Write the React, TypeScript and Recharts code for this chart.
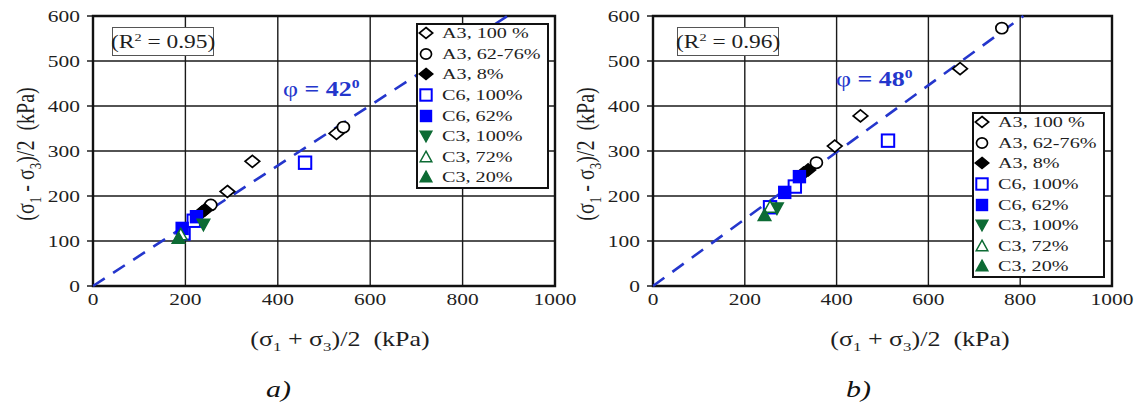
import React from 'react';
import { ScatterChart, Scatter, XAxis, YAxis, CartesianGrid, ReferenceLine, ReferenceArea, Legend } from 'recharts';

const FONT = '"Liberation Serif", "Times New Roman", Times, serif';
const SX = 1.3; // horizontal stretch of the glyphs in the reference

// ---- data: panel a) ----
const A3_100_A = [{ x: 291, y: 210 }, { x: 345, y: 277 }, { x: 527, y: 339 }];
const A3_6276_A = [{ x: 255, y: 180 }, { x: 542, y: 353 }];
const A3_8_A = [{ x: 236, y: 164 }, { x: 242, y: 169 }];
const C6_100_A = [{ x: 196, y: 117 }, { x: 218, y: 145 }, { x: 459, y: 274 }];
const C6_62_A = [{ x: 193, y: 128 }, { x: 224, y: 154 }];
const C3_100_A = [{ x: 239, y: 137 }];
const C3_72_A = [{ x: 190, y: 114 }];
const C3_20_A = [{ x: 185, y: 106 }];
const FIT_A = [{ x: 0, y: 0 }, { x: 897, y: 600 }];

// ---- data: panel b) ----
const A3_100_B = [{ x: 396, y: 311 }, { x: 452, y: 378 }, { x: 669, y: 483 }];
const A3_6276_B = [{ x: 356, y: 274 }, { x: 760, y: 573 }];
const A3_8_B = [{ x: 328, y: 251 }, { x: 338, y: 258 }];
const C6_100_B = [{ x: 255, y: 175 }, { x: 309, y: 221 }, { x: 512, y: 323 }];
const C6_62_B = [{ x: 287, y: 208 }, { x: 319, y: 243 }];
const C3_100_B = [{ x: 270, y: 173 }];
const C3_72_B = [{ x: 255, y: 175 }];
const C3_20_B = [{ x: 243, y: 157 }];
const FIT_B = [{ x: 0, y: 0 }, { x: 807, y: 600 }];

const X_TICKS = [0, 200, 400, 600, 800, 1000];
const Y_TICKS = [0, 100, 200, 300, 400, 500, 600];
const SERIES_NAMES = ['A3, 100 %', 'A3, 62-76%', 'A3, 8%', 'C6, 100%', 'C6, 62%', 'C3, 100%', 'C3, 72%', 'C3, 20%'];

const BLUE = '#0000ff';
const GREEN = '#0d6b34';
const LINE_BLUE = '#2436cc';
const TXT = '#1e1e1e';

const STYLES = [
  { kind: 'diamond', color: '#000', filled: false },
  { kind: 'circle', color: '#000', filled: false },
  { kind: 'diamond', color: '#000', filled: true },
  { kind: 'square', color: BLUE, filled: false },
  { kind: 'square', color: BLUE, filled: true },
  { kind: 'down', color: GREEN, filled: true },
  { kind: 'up', color: GREEN, filled: false },
  { kind: 'up', color: GREEN, filled: true },
];

function MarkerSvg({ cx, cy, kind, color, filled, s = 1 }: any) {
  const fill = filled ? color : '#fff';
  if (kind === 'diamond') {
    const w = 7.3 * s, h = 6 * s;
    return <polygon points={`${cx},${cy - h} ${cx + w},${cy} ${cx},${cy + h} ${cx - w},${cy}`} fill={fill} stroke={color} strokeWidth={1.7} />;
  }
  if (kind === 'circle') {
    return <ellipse cx={cx} cy={cy} rx={6 * s} ry={5.6 * s} fill={fill} stroke={color} strokeWidth={1.7} />;
  }
  if (kind === 'square') {
    const d = 6.2 * s;
    return filled
      ? <rect x={cx - d - 0.5} y={cy - d - 0.5} width={2 * d + 1} height={2 * d + 1} fill={fill} />
      : <rect x={cx - d} y={cy - d} width={2 * d} height={2 * d} fill={fill} stroke={color} strokeWidth={2} />;
  }
  const d = 6.3 * s;
  if (kind === 'up') {
    return <polygon points={`${cx},${cy - d} ${cx + d},${cy + d * 0.8} ${cx - d},${cy + d * 0.8}`} fill={fill} stroke={color} strokeWidth={1.5} />;
  }
  return <polygon points={`${cx - d},${cy - d * 0.8} ${cx + d},${cy - d * 0.8} ${cx},${cy + d}`} fill={fill} stroke={color} strokeWidth={1.5} />;
}

const makeShape = (st: any) => (props: any) => <MarkerSvg cx={props.cx} cy={props.cy} {...st} />;

const Stretch = ({ children, origin = 'left center' }: any) => (
  <span style={{ display: 'inline-block', transform: `scaleX(${SX})`, transformOrigin: origin, whiteSpace: 'pre' }}>{children}</span>
);

function LegendBox() {
  return (
    <div style={{ position: 'relative', width: 133, height: 166, border: '2px solid #111', background: '#fff', boxSizing: 'border-box', fontFamily: FONT }}>
      {SERIES_NAMES.map((n, i) => (
        <div key={n} style={{ position: 'absolute', left: 0, top: -2 + i * 20.6, height: 20.6, display: 'flex', alignItems: 'center', fontSize: 15.5, color: TXT, whiteSpace: 'nowrap' }}>
          <svg width={16} height={16} style={{ marginLeft: 0, marginRight: 8 }}>
            <MarkerSvg cx={8} cy={8} {...STYLES[i]} s={0.92} />
          </svg>
          <Stretch>{n}</Stretch>
        </div>
      ))}
    </div>
  );
}

const XTick = (p: any) => (
  <text transform={`translate(${p.x},${p.y}) scale(${SX},1)`} x={0} y={0} dy="0.72em" textAnchor="middle" fontFamily={FONT} fontSize={16.5} fill={TXT}>{p.payload.value}</text>
);
const YTick = (p: any) => (
  <text transform={`translate(${p.x},${p.y}) scale(${SX},1)`} x={0} y={0} dy="0.36em" textAnchor="end" fontFamily={FONT} fontSize={16.5} fill={TXT}>{p.payload.value}</text>
);

function YTitle() {
  return (
    <text x={0} y={0} transform={`translate(25,154) rotate(-90) scale(1,${SX})`} dy="0.35em" textAnchor="middle" fontFamily={FONT} fontSize={20} fill={TXT} style={{ whiteSpace: 'pre' }}>
      (σ<tspan dy={5} fontSize={13}>1</tspan><tspan dy={-5}> - σ</tspan><tspan dy={5} fontSize={13}>3</tspan><tspan dy={-5}>)/2  (kPa)</tspan>
    </text>
  );
}

function Panel({ series, fit, width, marginRight, r2, r2Left, phi, phiLeft, phiTop, legendLeft, legendTop, xTitleX, tag, tagX }: any) {
  const XTitle = () => (
    <text x={0} y={0} transform={`translate(${xTitleX},339) scale(${SX},1)`} dy="0.35em" textAnchor="middle" fontFamily={FONT} fontSize={20} fill={TXT} style={{ whiteSpace: 'pre' }}>
      (σ<tspan dy={5} fontSize={13}>1</tspan><tspan dy={-5}> + σ</tspan><tspan dy={5} fontSize={13}>3</tspan><tspan dy={-5}>)/2  (kPa)</tspan>
    </text>
  );
  return (
    <div style={{ position: 'relative', width, height: 403 }}>
      <ScatterChart width={width} height={403} margin={{ top: 16, right: marginRight, bottom: 87, left: 33 }}>
        <CartesianGrid stroke="#1a1a1a" strokeWidth={1.4} horizontalValues={Y_TICKS} verticalValues={X_TICKS} />
        <XAxis type="number" dataKey="x" domain={[0, 1000]} ticks={X_TICKS} interval={0} height={30} axisLine={false}
          tickSize={0} tickMargin={7} tick={<XTick />} label={<XTitle />} allowDataOverflow />
        <YAxis type="number" dataKey="y" domain={[0, 600]} ticks={Y_TICKS} interval={0} width={60} axisLine={false}
          tickSize={6} tickMargin={7} tickLine={{ stroke: '#111', strokeWidth: 1.4 }} tick={<YTick />} label={<YTitle />} allowDataOverflow />
        <ReferenceArea x1={0} x2={1000} y1={0} y2={600} fill="none" stroke="#111" strokeWidth={2.4} ifOverflow="visible" />
        <ReferenceLine segment={fit} stroke={LINE_BLUE} strokeWidth={2.6} strokeDasharray="14 10" ifOverflow="visible" />
        {series.map((d: any, i: number) => (
          <Scatter key={SERIES_NAMES[i]} name={SERIES_NAMES[i]} data={d} isAnimationActive={false} shape={makeShape(STYLES[i])} />
        ))}
        <Legend layout="horizontal" align="center" verticalAlign="middle" content={() => <LegendBox />}
          wrapperStyle={{ left: legendLeft, top: legendTop, width: 'auto', height: 'auto' }} />
      </ScatterChart>
      <div style={{ position: 'absolute', left: r2Left, top: 27, width: 102, height: 29, border: '1.5px solid #555', fontFamily: FONT, fontSize: 18, color: TXT, display: 'flex', alignItems: 'center', justifyContent: 'center', background: '#fff', boxSizing: 'border-box' }}>
        <Stretch origin="center center">(R<sup style={{ fontSize: 11 }}>2</sup> = {r2})</Stretch>
      </div>
      <div style={{ position: 'absolute', left: phiLeft, top: phiTop, fontFamily: FONT, fontSize: 20, fontWeight: 'bold', color: LINE_BLUE, whiteSpace: 'nowrap' }}>
        <Stretch><span style={{ fontWeight: 'normal' }}>φ</span> = {phi}<sup style={{ fontSize: 12 }}>0</sup></Stretch>
      </div>
      <div style={{ position: 'absolute', left: tagX - 20, top: 377, width: 40, textAlign: 'center', fontFamily: FONT, fontSize: 23, fontStyle: 'italic', color: '#111' }}>
        <Stretch origin="center center">{tag}</Stretch>
      </div>
    </div>
  );
}

export default function App() {
  const seriesA = [A3_100_A, A3_6276_A, A3_8_A, C6_100_A, C6_62_A, C3_100_A, C3_72_A, C3_20_A];
  const seriesB = [A3_100_B, A3_6276_B, A3_8_B, C6_100_B, C6_62_B, C3_100_B, C3_72_B, C3_20_B];
  return (
    <div style={{ position: 'absolute', left: 0, top: 0, width: 1139, height: 403, background: '#fff', overflow: 'hidden' }}>
      <div style={{ position: 'absolute', left: 0, top: 0 }}>
        <Panel series={seriesA} fit={FIT_A} width={595} marginRight={40} r2="0.95" r2Left={112}
          phi="42" phiLeft={283} phiTop={77} legendLeft={416} legendTop={23} xTitleX={340} tag="a)" tagX={279} />
      </div>
      <div style={{ position: 'absolute', left: 560, top: 0 }}>
        <Panel series={seriesB} fit={FIT_B} width={579} marginRight={27} r2="0.96" r2Left={117}
          phi="48" phiLeft={276} phiTop={67} legendLeft={412} legendTop={112} xTitleX={360} tag="b)" tagX={299} />
      </div>
    </div>
  );
}
